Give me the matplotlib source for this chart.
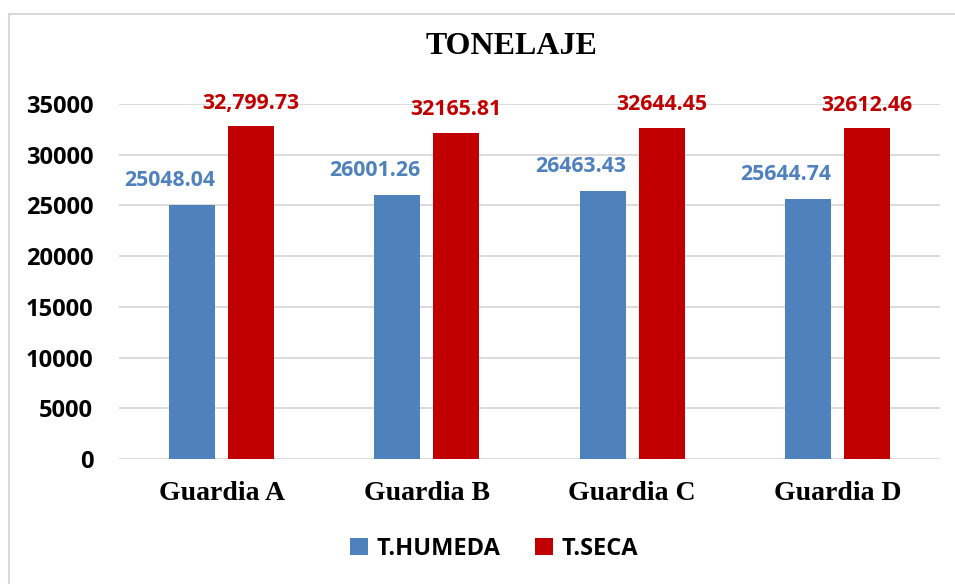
import matplotlib.pyplot as plt
import matplotlib.patches as mpatches
import numpy as np

categories = ["Guardia A", "Guardia B", "Guardia C", "Guardia D"]
humeda = [25048.04, 26001.26, 26463.43, 25644.74]
seca = [32799.73, 32165.81, 32644.45, 32612.46]
humeda_labels = ["25048.04", "26001.26", "26463.43", "25644.74"]
seca_labels = ["32,799.73", "32165.81", "32644.45", "32612.46"]
yticks = [0, 5000, 10000, 15000, 20000, 25000, 30000, 35000]

blue = "#4F81BD"
red = "#C00000"
sans = ["Open Sans", "DejaVu Sans"]
serif = ["Liberation Serif", "DejaVu Serif"]

fig = plt.figure(figsize=(9.55, 5.84), dpi=100)
ax = fig.add_axes([119 / 955, 1 - 459 / 584, (940 - 119) / 955, (459 - 104) / 584])

x = np.arange(len(categories))
w = 0.224
gap = 0.063
ax.bar(x - (w + gap) / 2, humeda, w, color=blue, label="T.HUMEDA", zorder=3)
ax.bar(x + (w + gap) / 2, seca, w, color=red, label="T.SECA", zorder=3)

for i in range(len(categories)):
    ax.annotate(humeda_labels[i], (x[i] - (w + gap) / 2, humeda[i]),
                xytext=(-16, 10), textcoords="offset points", ha="center", va="bottom",
                color=blue, fontsize=15.3, fontweight="bold", family=sans)
    ax.annotate(seca_labels[i], (x[i] + (w + gap) / 2, seca[i]),
                xytext=(0, 9), textcoords="offset points", ha="center", va="bottom",
                color=red, fontsize=15.3, fontweight="bold", family=sans)

ax.set_xlim(-0.5, len(categories) - 0.5)
ax.set_ylim(0, 35000)
ax.set_yticks(yticks)
ax.set_yticklabels([str(v) for v in yticks], fontsize=17, fontweight="bold", family=sans)
ax.set_xticks(x)
ax.set_xticklabels(categories, fontsize=20, fontweight="bold", family=serif)
ax.tick_params(axis="both", length=0)
ax.tick_params(axis="y", pad=18.5)
ax.tick_params(axis="x", pad=16)
ax.grid(axis="y", color="#d9d9d9", linewidth=1.3, zorder=0)
for s in ax.spines.values():
    s.set_visible(False)

fig.text(511 / 955, 1 - 46 / 584, "TONELAJE", ha="center", va="center",
         fontsize=23, fontweight="bold", family=serif)

leg = fig.legend(loc="center", bbox_to_anchor=(494 / 955, 1 - 549 / 584), ncol=2,
                 frameon=False, prop={"family": sans, "size": 17, "weight": "bold"},
                 handlelength=0.75, handleheight=0.75, handletextpad=0.35, columnspacing=1.5)

border = mpatches.Rectangle((9 / 955, -0.05), 1.2, 1.05 - 14 / 584, transform=fig.transFigure,
                            fill=False, edgecolor="#d9d9d9", linewidth=1.5, clip_on=False)
fig.patches.append(border)

fig.savefig("out.png", dpi=100)
